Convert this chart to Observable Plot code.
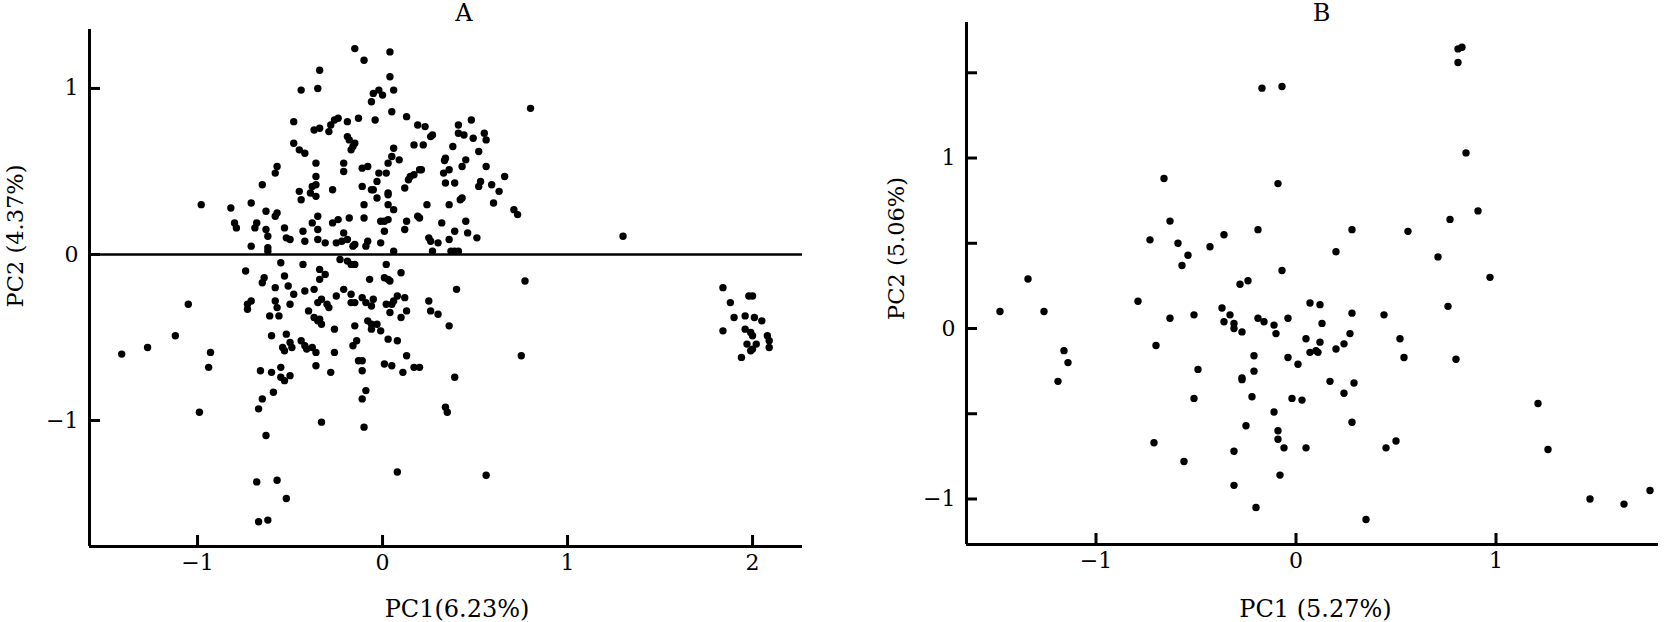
<!DOCTYPE html>
<html><head><meta charset="utf-8">
<script src="https://cdn.jsdelivr.net/npm/d3@7"></script>
<script src="https://cdn.jsdelivr.net/npm/@observablehq/plot@0.6"></script>
<style>
html,body{margin:0;padding:0;background:#fff;}
#wrap{position:relative;width:1676px;height:622px;overflow:hidden;background:#fff;}
#wrap svg{position:absolute;top:0;overflow:visible;}
</style></head><body><div id="wrap"></div>
<script>
// ---------- Panel A data ----------
const pc1A = [
-0.34,-0.44,-0.35,-0.48,-0.26,-0.24,-0.28,-0.37,-0.34,-0.29,-0.48,-0.45,-0.42,-0.57,-0.58,-0.36,-0.36,-0.65,-0.38,-0.36,
-0.39,-0.36,-0.45,-0.44,-0.27,-0.98,-0.82,-0.71,-0.63,-0.57,-0.58,-0.80,-0.79,-0.68,-0.69,-0.63,-0.62,-0.53,-0.52,-0.50,
-0.43,-0.38,-0.35,-0.35,-0.35,-0.42,-0.31,-0.27,-0.24,-0.71,-0.62,-0.62,-0.55,-0.43,-0.74,-0.34,-0.31,-0.34,-0.64,-0.65,
-0.53,-0.58,-0.51,-0.48,-0.42,-0.37,
-1.05,-0.73,-0.71,-0.73,-0.58,-0.57,-0.61,-0.56,-0.50,-0.40,-0.35,-0.33,-0.30,-0.29,-0.25,-0.37,-0.35,-0.33,-0.34,-0.26,
-1.12,-1.27,-1.41,-0.93,-0.94,-0.60,-0.52,-0.54,-0.53,-0.50,-0.49,-0.44,-0.42,-0.41,-0.38,-0.36,-0.26,-0.36,-0.28,-0.66,
-0.60,-0.55,-0.55,-0.53,-0.50,-0.59,-0.65,-0.67,-0.99,-0.33,-0.63,-0.68,-0.57,-0.52,-0.67,-0.62,
-0.15,0.04,-0.10,0.04,0.06,-0.05,-0.02,0.00,-0.06,0.05,-0.19,-0.13,-0.04,0.13,0.19,0.23,0.26,0.27,0.41,0.48,
0.41,0.44,0.49,0.55,0.56,-0.19,-0.18,-0.16,-0.15,-0.17,0.17,0.22,0.38,0.06,0.05,0.09,0.52,0.34,0.335,0.45,
-0.21,-0.21,-0.11,-0.08,0.03,-0.02,0.02,0.14,0.15,0.17,0.20,0.21,0.36,0.33,0.34,0.39,0.43,0.56,0.52,0.53,
0.66,0.59,0.63,0.60,0.71,0.73,0.80,-0.03,-0.11,-0.06,-0.05,0.03,0.03,-0.03,0.12,-0.10,0.03,0.06,0.24,0.36,
0.43,0.42,0.19,0.20,0.13,0.12,-0.18,-0.10,-0.01,0.01,0.03,0.01,0.32,0.45,0.46,0.39,0.51,0.25,0.26,0.30,
0.36,-0.21,-0.25,-0.22,-0.19,-0.16,-0.15,-0.09,-0.08,-0.01,0.06,0.27,0.37,0.39,0.41,-0.23,-0.19,-0.17,-0.15,0.02,
0.10,-0.07,0.01,0.03,0.04,0.77,0.40,-0.21,-0.17,
-0.17,-0.15,-0.11,-0.09,-0.06,-0.05,0.02,0.04,0.05,0.06,0.08,0.12,0.13,0.10,0.25,0.26,0.30,0.36,-0.15,-0.08,
-0.06,-0.03,-0.06,-0.01,0.03,0.08,-0.14,-0.16,0.13,-0.13,-0.11,-0.11,0.01,0.05,0.11,0.17,0.20,0.39,0.75,-0.09,
-0.11,0.34,0.35,-0.10,0.08,0.56,
1.30,1.84,1.98,2.00,1.88,1.90,1.96,2.01,2.05,1.84,1.96,1.99,2.00,2.08,2.09,2.09,1.97,2.00,2.02,1.99,1.94
];
const pc2A = [
1.11,0.99,1.00,0.80,0.81,0.82,0.78,0.75,0.76,0.74,0.67,0.63,0.61,0.53,0.49,0.55,0.47,0.42,0.41,0.42,
0.37,0.35,0.38,0.33,0.39,0.30,0.28,0.31,0.26,0.25,0.23,0.19,0.16,0.19,0.16,0.15,0.11,0.16,0.10,0.09,
0.14,0.19,0.23,0.15,0.09,0.08,0.07,0.19,0.21,0.05,0.04,0.02,-0.05,-0.06,-0.10,-0.09,-0.12,-0.15,-0.14,-0.17,
-0.13,-0.20,-0.19,-0.24,-0.22,-0.21,
-0.30,-0.30,-0.28,-0.33,-0.28,-0.32,-0.37,-0.37,-0.30,-0.34,-0.29,-0.27,-0.30,-0.32,-0.25,-0.38,-0.40,-0.42,-0.39,-0.45,
-0.49,-0.56,-0.60,-0.59,-0.68,-0.49,-0.48,-0.56,-0.58,-0.53,-0.56,-0.52,-0.55,-0.57,-0.56,-0.59,-0.59,-0.67,-0.71,-0.70,
-0.71,-0.68,-0.74,-0.76,-0.73,-0.83,-0.87,-0.93,-0.95,-1.01,-1.09,-1.37,-1.36,-1.47,-1.61,-1.60,
1.24,1.22,1.17,1.07,0.99,0.97,0.99,0.96,0.92,0.86,0.80,0.82,0.81,0.83,0.78,0.77,0.71,0.72,0.78,0.81,
0.73,0.72,0.70,0.73,0.69,0.71,0.69,0.65,0.67,0.63,0.66,0.66,0.65,0.64,0.59,0.57,0.62,0.58,0.566,0.57,
0.55,0.50,0.52,0.53,0.55,0.49,0.49,0.45,0.47,0.48,0.51,0.51,0.51,0.49,0.43,0.43,0.53,0.53,0.41,0.44,
0.47,0.42,0.38,0.31,0.27,0.24,0.88,0.44,0.41,0.39,0.39,0.37,0.36,0.34,0.40,0.30,0.30,0.27,0.30,0.30,
0.34,0.33,0.23,0.22,0.20,0.15,0.22,0.22,0.20,0.20,0.21,0.14,0.19,0.20,0.13,0.14,0.10,0.10,0.08,0.07,
0.09,0.13,0.07,0.08,0.09,0.05,0.06,0.05,0.08,0.07,0.02,0.02,0.02,0.02,0.02,-0.03,-0.04,-0.06,-0.06,-0.06,
-0.11,-0.15,-0.14,-0.15,-0.16,-0.16,-0.21,-0.21,-0.24,
-0.29,-0.29,-0.26,-0.29,-0.31,-0.27,-0.30,-0.35,-0.30,-0.28,-0.25,-0.26,-0.34,-0.38,-0.28,-0.34,-0.36,-0.43,-0.43,-0.40,
-0.42,-0.42,-0.45,-0.46,-0.51,-0.52,-0.52,-0.55,-0.61,-0.64,-0.64,-0.70,-0.66,-0.67,-0.71,-0.68,-0.68,-0.74,-0.61,-0.82,
-0.87,-0.92,-0.95,-1.04,-1.31,-1.33,
0.11,-0.20,-0.25,-0.25,-0.29,-0.38,-0.37,-0.38,-0.40,-0.46,-0.45,-0.47,-0.49,-0.49,-0.52,-0.56,-0.54,-0.57,-0.54,-0.58,-0.62
];
const xTicksA = [-1, 0, 1, 2];
const yTicksA = [-1, 0, 1];
const titleA = "A", xLabelA = "PC1(6.23%)", yLabelA = "PC2 (4.37%)";

// ---------- Panel B data ----------
const pc1B = [
-0.17,-0.07,-0.66,-0.09,-0.63,-0.73,-0.59,-0.19,-0.36,-0.43,-0.54,-0.57,-0.07,-1.34,-0.28,-0.24,-0.79,0.07,-1.48,-1.26,
-0.37,-0.63,-0.51,-0.33,-0.36,-0.31,-0.31,-0.27,-0.19,-0.16,-0.11,-0.10,-0.04,0.05,0.10,-0.70,-1.16,-1.14,-1.19,-0.21,
-0.04,0.01,-0.49,-0.21,-0.27,-0.27,-0.51,-0.22,-0.02,0.03,-0.11,-0.25,-0.09,-0.09,-0.06,0.05,-0.71,-0.31,-0.56,-0.08,
-0.31,-0.20,
0.81,0.83,0.81,0.85,0.91,0.77,0.28,0.56,0.20,0.71,0.97,0.12,0.28,0.13,0.27,0.44,0.76,0.12,0.24,0.20,
0.07,0.11,0.52,0.54,0.80,0.17,0.29,0.24,0.28,0.45,0.50,0.35,1.21,1.26,1.47,1.64,1.77
];
const pc2B = [
1.41,1.42,0.88,0.85,0.63,0.52,0.50,0.58,0.55,0.48,0.43,0.37,0.34,0.29,0.26,0.28,0.16,0.15,0.10,0.10,
0.12,0.06,0.08,0.08,0.04,0.03,0.00,-0.02,0.06,0.04,0.02,-0.03,0.06,-0.06,-0.13,-0.10,-0.13,-0.20,-0.31,-0.16,
-0.17,-0.21,-0.24,-0.25,-0.29,-0.30,-0.41,-0.40,-0.41,-0.42,-0.49,-0.57,-0.60,-0.65,-0.70,-0.70,-0.67,-0.72,-0.78,-0.86,
-0.92,-1.05,
1.64,1.65,1.56,1.03,0.69,0.64,0.58,0.57,0.45,0.42,0.30,0.14,0.09,0.03,-0.03,0.08,0.13,-0.08,-0.09,-0.12,
-0.14,-0.14,-0.06,-0.17,-0.18,-0.31,-0.32,-0.38,-0.55,-0.70,-0.66,-1.12,-0.44,-0.71,-1.00,-1.03,-0.95
];
const xTicksB = [-1, 0, 1];
const yTicksB = [-1, -0.5, 0, 0.5, 1, 1.5];
const yLabelTicksB = [-1, 0, 1];
const titleB = "B", xLabelB = "PC1 (5.27%)", yLabelB = "PC2 (5.06%)";

// ---------- drawing ----------
const FONT = "DejaVu Serif";
const FS = 22;
const fmt = d => d < 0 ? "\u2212" + Math.abs(d) : String(d);

function panel(cfg) {
  const pts = cfg.xs.map((x, i) => ({x, y: cfg.ys[i]}));
  const marks = [
    Plot.ruleX([cfg.xDomain[0]], {strokeWidth: 3}),
    Plot.ruleY([cfg.yDomain[0]], {strokeWidth: 3}),
    Plot.axisX(cfg.xTicks, {tickSize: -11, strokeWidth: 3, text: null, label: null, anchor: "bottom"}),
    Plot.axisX(cfg.xTicks, {tickSize: 0, tickPadding: 8, tickFormat: fmt, label: null, anchor: "bottom", fontSize: FS, fill: "black"}),
    Plot.axisY(cfg.yTicks, {tickSize: -11, strokeWidth: 3, text: null, label: null, anchor: "left"}),
    Plot.axisY(cfg.yLabelTicks, {tickSize: 0, tickPadding: 11, tickFormat: fmt, label: null, anchor: "left", fontSize: FS, fill: "black"}),
    ...(cfg.extra || []),
    Plot.dot(pts, {x: "x", y: "y", r: 3.7, fill: "black", stroke: "none"}),
    Plot.text([cfg.title], {frameAnchor: "top", textAnchor: "middle", lineAnchor: "middle", dx: cfg.titleDx, dy: cfg.titleDy, fontSize: 24, fill: "black"}),
    Plot.text([cfg.xLabel], {frameAnchor: "bottom", textAnchor: "middle", lineAnchor: "middle", dx: cfg.xLabDx, dy: cfg.xLabDy, fontSize: 24, fill: "black"}),
    Plot.text([cfg.yLabel], {frameAnchor: "left", textAnchor: "middle", lineAnchor: "middle", rotate: -90, dx: cfg.yLabDx, dy: cfg.yLabDy, fontSize: 22.5, fill: "black"})
  ];
  const svg = Plot.plot({
    width: cfg.width, height: 622,
    marginLeft: cfg.ml, marginRight: cfg.mr, marginTop: cfg.mt, marginBottom: cfg.mb,
    style: {fontFamily: FONT, fontSize: FS + "px", background: "transparent", color: "black"},
    x: {domain: cfg.xDomain, axis: null},
    y: {domain: cfg.yDomain, axis: null},
    marks
  });
  svg.style.left = cfg.left + "px";
  return svg;
}

const wrap = document.getElementById("wrap");
wrap.appendChild(panel({
  left: 0, width: 830, ml: 89, mr: 28, mt: 29, mb: 76,
  xDomain: [-1.584, 2.27], yDomain: [-1.759, 1.355],
  xs: pc1A, ys: pc2A, xTicks: xTicksA, yTicks: yTicksA, yLabelTicks: yTicksA,
  extra: [Plot.ruleY([0], {strokeWidth: 2.5})],
  title: titleA, titleDx: 18, titleDy: -16,
  xLabel: xLabelA, xLabDx: 11, xLabDy: 63,
  yLabel: yLabelA, yLabDx: -74, yLabDy: -52
}));
wrap.appendChild(panel({
  left: 830, width: 846, ml: 136, mr: 18, mt: 22, mb: 78,
  xDomain: [-1.6475, 1.8125], yDomain: [-1.267, 1.795],
  xs: pc1B, ys: pc2B, xTicks: xTicksB, yTicks: yTicksB, yLabelTicks: yLabelTicksB,
  title: titleB, titleDx: 9, titleDy: -9,
  xLabel: xLabelB, xLabDx: 3, xLabDy: 65,
  yLabel: yLabelB, yLabDx: -70, yLabDy: -35
}));
</script></body></html>
